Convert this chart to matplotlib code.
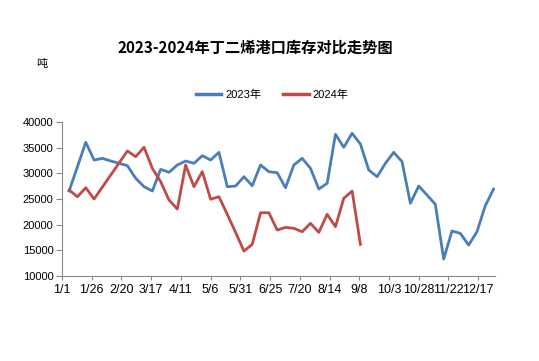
import matplotlib
matplotlib.use("Agg")
import matplotlib.pyplot as plt
import pandas as pd

plt.rcParams['font.family'] = ['Liberation Sans', 'Noto Sans CJK SC', 'DejaVu Sans']

dates = pd.date_range('2023-01-07', periods=52, freq='7D')

y2023 = [26550, 31300, 36040, 32590, 32920, 32400, 31950, 31490, 29030, 27400,
         26550, 30780, 30190, 31620, 32400, 31950, 33430, 32590, 34090, 27390,
         27520, 29340, 27590, 31620, 30320, 30120, 27190, 31620, 32920, 30970,
         26940, 28040, 37600, 35070, 37790, 35700, 30640, 29340, 31950, 34090,
         32260, 24170, 27520, 25770, 23960, 13300, 18760, 18300, 16020, 18620,
         23690, 26940]

y2024 = [26740, 25440, 27190, 24990, 27330, 29670, 32010, 34350, 33240, 35070,
         30970, 28380, 24800, 23040, 31620, 27400, 30320, 24950, 25440, 22010,
         18500, 14850, 16160, 22320, 22320, 18950, 19470, 19280, 18620, 20260,
         18500, 22010, 19600, 25140, 26550, 16160]

tick_labels = ['1/1', '1/26', '2/20', '3/17', '4/11', '5/6', '5/31', '6/25',
               '7/20', '8/14', '9/8', '10/3', '10/28', '11/22', '12/17']
yticks = [10000, 15000, 20000, 25000, 30000, 35000, 40000]

c23 = '#4A7EBB'
c24 = '#BE4B48'

fig = plt.figure(figsize=(5.39, 3.61), dpi=100)
ax = fig.add_axes([0.115, 0.2355, 0.803, 0.4266])

ax.plot(dates, y2023, color=c23, lw=2.0, label='2023年', solid_joinstyle='round')
ax.plot(dates[:len(y2024)], y2024, color=c24, lw=2.0, label='2024年', solid_joinstyle='round')

start = pd.Timestamp('2023-01-01')
tick_pos = [start + pd.Timedelta(days=25 * i) for i in range(len(tick_labels))]
ax.set_xlim(start, pd.Timestamp('2023-12-31'))
ax.set_xticks(tick_pos)
ax.set_xticklabels(tick_labels, fontsize=9)
ax.set_ylim(10000, 40000)
ax.set_yticks(yticks)
ax.set_yticklabels([str(v) for v in yticks], fontsize=8)

for s in ['top', 'right']:
    ax.spines[s].set_visible(False)
for s in ['left', 'bottom']:
    ax.spines[s].set_color('#888888')
    ax.spines[s].set_linewidth(0.8)
ax.tick_params(axis='both', colors='#888888', length=4, width=0.8, labelcolor='black')
ax.tick_params(axis='x', pad=3, length=3)
ax.tick_params(axis='y', pad=2)

fig.text(0.474, 0.867, '2023-2024年丁二烯港口库存对比走势图', ha='center', va='center',
         fontsize=11, fontweight='bold', family=['Noto Sans CJK SC'])
fig.text(0.067, 0.823, '吨', ha='left', va='center', fontsize=8, family=['Noto Sans CJK SC'])

leg = fig.legend(loc='center', bbox_to_anchor=(0.505, 0.737), ncol=2, frameon=False,
                 fontsize=8, handlelength=2.3, handletextpad=0.35, columnspacing=2.0)
for l in leg.get_lines():
    l.set_linewidth(2.5)

fig.savefig('out.png', dpi=100)
